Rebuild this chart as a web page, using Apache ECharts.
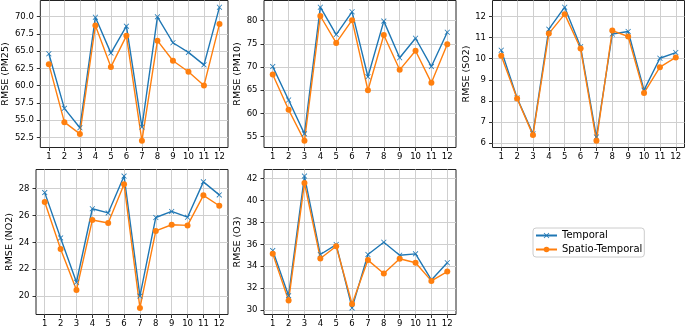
<!DOCTYPE html>
<html>
<head>
<meta charset="utf-8">
<script src="https://cdn.jsdelivr.net/npm/echarts@6/dist/echarts.min.js"></script>
<style>
    html, body { margin: 0; padding: 0; background: #fff; }
    #chart { width: 685px; height: 328px; }
</style>
</head>
<body>
<div id="chart"></div>
<script>
// months on the x axis
const months = [1, 2, 3, 4, 5, 6, 7, 8, 9, 10, 11, 12];

// RMSE per month
const pm25Temporal = [64.6, 56.7, 53.9, 69.9, 64.7, 68.6, 54.0, 69.95, 66.2, 64.8, 63.0, 71.35];
const pm25Spatio   = [63.1, 54.7, 53.0, 68.7, 62.7, 67.2, 52.0, 66.5, 63.6, 62.0, 60.0, 68.9];
const pm10Temporal = [70.1, 62.9, 55.6, 82.9, 77.0, 81.9, 67.9, 79.9, 72.0, 76.2, 70.1, 77.5];
const pm10Spatio   = [68.4, 60.8, 54.1, 81.0, 75.2, 80.1, 65.0, 76.9, 69.4, 73.5, 66.6, 74.9];
const so2Temporal  = [10.4, 8.14, 6.44, 11.4, 12.44, 10.57, 6.29, 11.17, 11.29, 8.51, 10.02, 10.29];
const so2Spatio    = [10.14, 8.11, 6.38, 11.19, 12.11, 10.48, 6.11, 11.33, 11.05, 8.38, 9.6, 10.06];
const no2Temporal  = [27.7, 24.33, 21.03, 26.5, 26.19, 28.93, 20.0, 25.85, 26.3, 25.87, 28.5, 27.53];
const no2Spatio    = [27.0, 23.5, 20.45, 25.66, 25.44, 28.32, 19.12, 24.85, 25.31, 25.26, 27.5, 26.72];
const o3Temporal   = [35.43, 31.31, 42.24, 35.07, 35.98, 30.19, 35.07, 36.19, 35.01, 35.13, 32.75, 34.32];
const o3Spatio     = [35.13, 30.86, 41.61, 34.71, 35.83, 30.55, 34.56, 33.33, 34.68, 34.32, 32.66, 33.51];

// tick labels of the y axes
const pm25Ticks = [52.5, 55, 57.5, 60, 62.5, 65, 67.5, 70];
const pm10Ticks = [55, 60, 65, 70, 75, 80];
const so2Ticks  = [6, 7, 8, 9, 10, 11, 12];
const no2Ticks  = [20, 22, 24, 26, 28];
const o3Ticks   = [30, 32, 34, 36, 38, 40, 42];

const FONT = 'DejaVu Sans';
const BLUE = '#1f77b4';
const ORANGE = '#ff7f0e';
const CROSS = 'path://M0,1L1,0L5,4L9,0L10,1L6,5L10,9L9,10L5,6L1,10L0,9L4,5Z';

const panels = [
    { name: 'RMSE (PM25)', t: pm25Temporal, s: pm25Spatio, ticks: pm25Ticks, dec: 1, left: 36, top: 0.5, height: 147, gap: 26 },
    { name: 'RMSE (PM10)', t: pm10Temporal, s: pm10Spatio, ticks: pm10Ticks, dec: 0, left: 264, top: 0.5, height: 147, gap: 20 },
    { name: 'RMSE (SO2)', t: so2Temporal, s: so2Spatio, ticks: so2Ticks, dec: 0, left: 492.5, top: 0.5, height: 147, gap: 21 },
    { name: 'RMSE (NO2)', t: no2Temporal, s: no2Spatio, ticks: no2Ticks, dec: 0, left: 36, top: 169.5, height: 146, gap: 20 },
    { name: 'RMSE (O3)', t: o3Temporal, s: o3Spatio, ticks: o3Ticks, dec: 0, left: 264, top: 169.5, height: 146, gap: 20 },
];

const grid = [], xAxis = [], yAxis = [], series = [];

panels.forEach((p, i) => {
    // matplotlib style 5% margins
    const all = p.t.concat(p.s);
    const lo = Math.min.apply(null, all), hi = Math.max.apply(null, all);
    const pad = (hi - lo) * 0.05;

    grid.push({
        left: p.left, top: p.top, width: 192, height: p.height,
        show: true, borderColor: '#222', borderWidth: 1, backgroundColor: 'transparent',
    });
    xAxis.push({
        type: 'value', gridIndex: i, min: 0.45, max: 12.55,
        axisLine: { show: false },
        axisTick: { show: true, length: 3.5, customValues: months, lineStyle: { color: '#000', width: 0.8 } },
        axisLabel: { customValues: months, margin: 4.5, color: '#000', fontSize: 8.5, fontFamily: FONT },
        splitLine: { show: true, lineStyle: { color: '#cfcfcf', width: 1 } },
    });
    yAxis.push({
        type: 'value', gridIndex: i, min: lo - pad, max: hi + pad,
        name: p.name, nameLocation: 'middle', nameGap: p.gap,
        nameTextStyle: { color: '#000', fontSize: 9.5, fontFamily: FONT },
        axisLine: { show: false },
        axisTick: { show: true, length: 3.5, customValues: p.ticks, lineStyle: { color: '#000', width: 0.8 } },
        axisLabel: {
            customValues: p.ticks, margin: 6.5, color: '#000', fontSize: 8.5, fontFamily: FONT,
            formatter: (v) => v.toFixed(p.dec),
        },
        splitLine: { show: true, lineStyle: { color: '#cfcfcf', width: 1 } },
    });
    series.push({
        name: 'Temporal', type: 'line', xAxisIndex: i, yAxisIndex: i,
        data: months.map((m, k) => [m, p.t[k]]),
        symbol: CROSS, symbolSize: 5.5,
        itemStyle: { color: BLUE },
        lineStyle: { color: BLUE, width: 1.4 },
    });
    series.push({
        name: 'Spatio-Temporal', type: 'line', xAxisIndex: i, yAxisIndex: i,
        data: months.map((m, k) => [m, p.s[k]]),
        symbol: 'circle', symbolSize: 6,
        itemStyle: { color: ORANGE },
        lineStyle: { color: ORANGE, width: 1.4 },
    });
});

const option = {
    animation: false,
    backgroundColor: '#fff',
    textStyle: { fontFamily: FONT },
    legend: {
        data: ['Temporal', 'Spatio-Temporal'],
        orient: 'vertical',
        left: 533, top: 228,
        itemWidth: 21, itemHeight: 7, itemGap: 4,
        padding: [2.5, 2, 2.5, 2],
        borderColor: '#cccccc', borderWidth: 1, borderRadius: 3,
        backgroundColor: 'rgba(255,255,255,0.8)',
        textStyle: { color: '#000', fontSize: 10, fontFamily: FONT, lineHeight: 10 },
    },
    grid: grid,
    xAxis: xAxis,
    yAxis: yAxis,
    series: series,
};

const myChart = echarts.init(document.getElementById('chart'));
myChart.setOption(option);
</script>
</body>
</html>
